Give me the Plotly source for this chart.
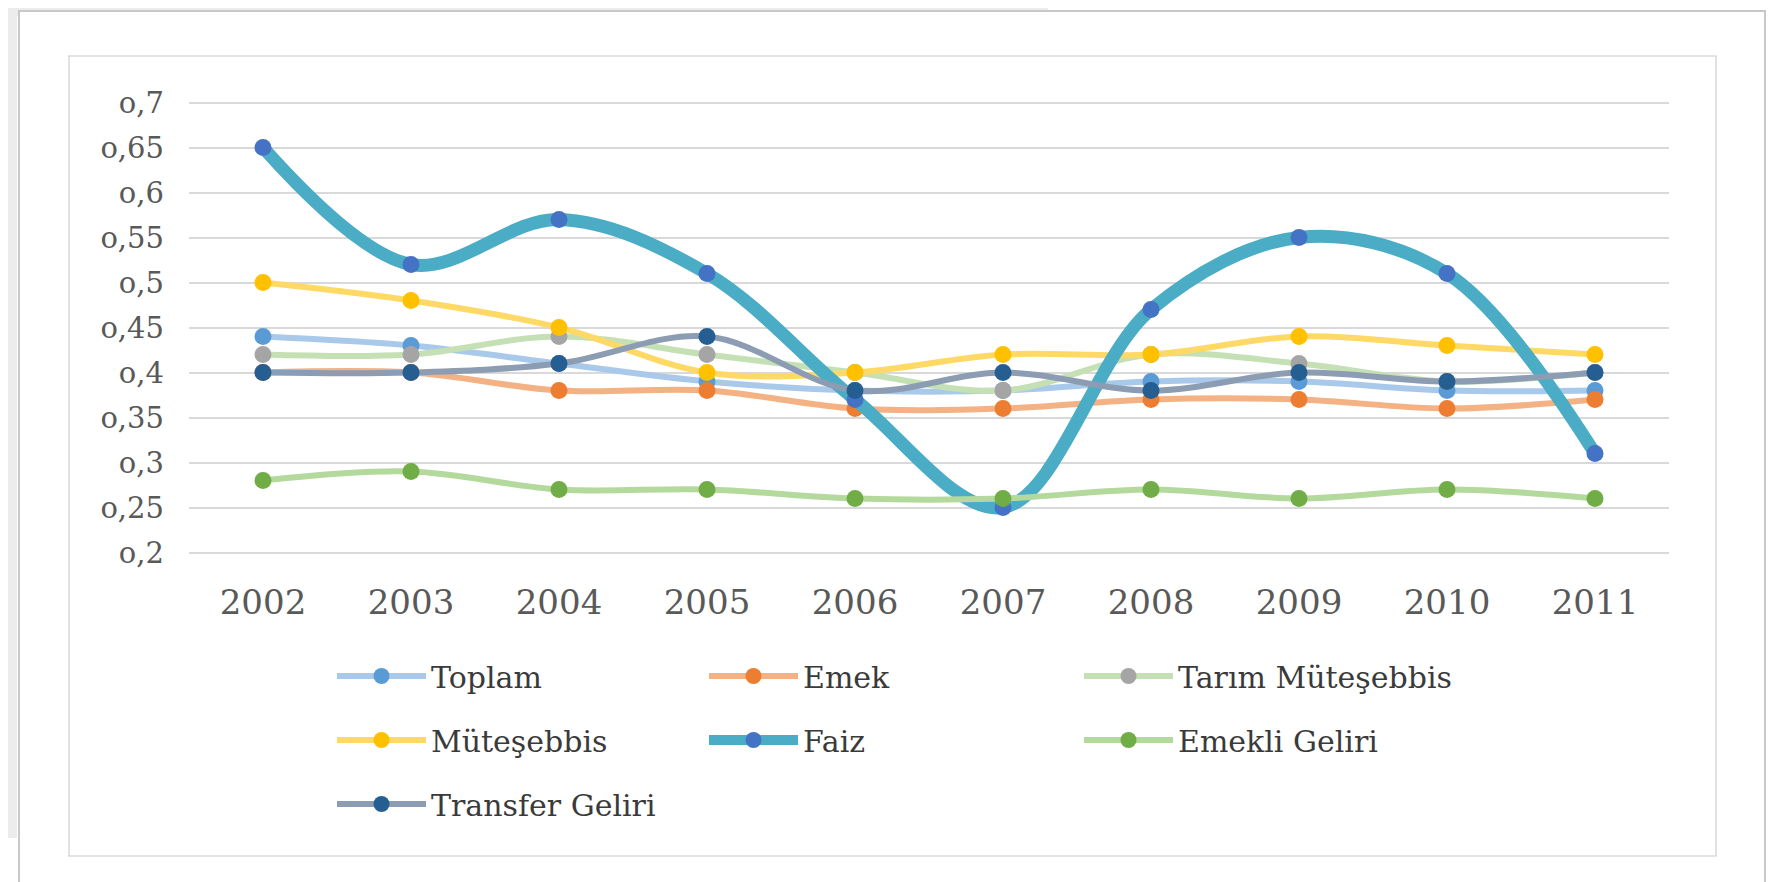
import plotly.graph_objects as go

# ---------------- data ----------------
years = ["2002", "2003", "2004", "2005", "2006", "2007", "2008", "2009", "2010", "2011"]
toplam = [0.44, 0.43, 0.41, 0.39, 0.38, 0.38, 0.39, 0.39, 0.38, 0.38]
emek = [0.40, 0.40, 0.38, 0.38, 0.36, 0.36, 0.37, 0.37, 0.36, 0.37]
tarim_mutesebbis = [0.42, 0.42, 0.44, 0.42, 0.40, 0.38, 0.42, 0.41, 0.39, 0.40]
mutesebbis = [0.50, 0.48, 0.45, 0.40, 0.40, 0.42, 0.42, 0.44, 0.43, 0.42]
faiz = [0.65, 0.52, 0.57, 0.51, 0.37, 0.25, 0.47, 0.55, 0.51, 0.31]
emekli_geliri = [0.28, 0.29, 0.27, 0.27, 0.26, 0.26, 0.27, 0.26, 0.27, 0.26]
transfer_geliri = [0.40, 0.40, 0.41, 0.44, 0.38, 0.40, 0.38, 0.40, 0.39, 0.40]

y_tickvals = [0.2, 0.25, 0.3, 0.35, 0.4, 0.45, 0.5, 0.55, 0.6, 0.65, 0.7]
y_ticktext = ["o,2", "o,25", "o,3", "o,35", "o,4", "o,45", "o,5", "o,55", "o,6", "o,65", "o,7"]

# ---------------- geometry ----------------
W, H = 1777, 882
L, R = 181, 1661          # plot area left/right pixels
T, B = 90, 549            # plot area top/bottom pixels


def px2x(px):
    return (px - L) / (R - L)


def py2y(py):
    return (B - py) / (B - T)


FONT = "DejaVu Serif"

series = [
    # name, values, line color, marker color, line width, legend
    ("Toplam", toplam, "#a9c9ea", "#5b9bd5", 6, "legend"),
    ("Emek", emek, "#f4b183", "#ed7d31", 6, "legend2"),
    ("Tarım Müteşebbis", tarim_mutesebbis, "#c5e0b4", "#a5a5a5", 6, "legend3"),
    ("Müteşebbis", mutesebbis, "#ffd966", "#ffc000", 6, "legend"),
    ("Faiz", faiz, "#4bacc6", "#4472c4", 13, "legend2"),
    ("Emekli Geliri", emekli_geliri, "#b4d99c", "#70ad47", 6, "legend3"),
    ("Transfer Geliri", transfer_geliri, "#8c9db3", "#255e91", 6, "legend"),
]

fig = go.Figure()
for name, vals, lc, mc, lw, lg in series:
    fig.add_trace(go.Scatter(
        x=years, y=vals, name=name, mode="lines+markers",
        line=dict(color=lc, width=lw, shape="spline", smoothing=1.0),
        marker=dict(color=mc, size=17, line=dict(width=0)),
        legend=lg, legendgroup=name,
    ))

legend_common = dict(
    orientation="v", xanchor="left", yanchor="top",
    font=dict(family=FONT, size=30, color="#3a3a3a"),
    bgcolor="rgba(0,0,0,0)", itemwidth=89, tracegroupgap=22,
    itemclick=False, itemdoubleclick=False,
)

shapes = [
    # outer frame shadow
    dict(type="rect", xref="paper", yref="paper",
         x0=px2x(0), x1=px2x(1040), y0=py2y(8), y1=py2y(0),
         fillcolor="#ececec", line=dict(width=0), layer="below"),
    dict(type="rect", xref="paper", yref="paper",
         x0=px2x(0), x1=px2x(9), y0=py2y(830), y1=py2y(0),
         fillcolor="#ececec", line=dict(width=0), layer="below"),
    # outer frame
    dict(type="rect", xref="paper", yref="paper",
         x0=px2x(11), x1=px2x(1757), y0=py2y(878), y1=py2y(3),
         fillcolor="white", line=dict(color="#c8c8c8", width=2), layer="below"),
    # inner chart frame
    dict(type="rect", xref="paper", yref="paper",
         x0=px2x(61), x1=px2x(1708), y0=py2y(848), y1=py2y(48),
         fillcolor="rgba(0,0,0,0)", line=dict(color="#d9d9d9", width=1.5), layer="below"),
]

fig.update_layout(
    width=W, height=H,
    margin=dict(l=L, r=W - R, t=T, b=H - B, pad=0, autoexpand=False),
    paper_bgcolor="white", plot_bgcolor="rgba(0,0,0,0)",
    font=dict(family=FONT, color="#595959"),
    showlegend=True,
    legend=dict(legend_common, x=px2x(324), y=py2y(642)),
    legend2=dict(legend_common, x=px2x(696), y=py2y(642)),
    legend3=dict(legend_common, x=px2x(1071), y=py2y(642)),
    shapes=shapes,
    xaxis=dict(
        type="category", range=[-0.5, 9.5], showgrid=False, showline=False,
        zeroline=False, ticks="", tickfont=dict(family=FONT, size=34, color="#595959"),
        ticklabelstandoff=22,
    ),
    yaxis=dict(
        range=[0.195, 0.705], tickvals=y_tickvals, ticktext=y_ticktext,
        showgrid=True, gridcolor="#d9d9d9", gridwidth=1.5, zeroline=False,
        showline=False, ticks="", tickfont=dict(family=FONT, size=29, color="#595959"),
        ticklabelstandoff=24,
    ),
)

fig.write_html("out.html")
